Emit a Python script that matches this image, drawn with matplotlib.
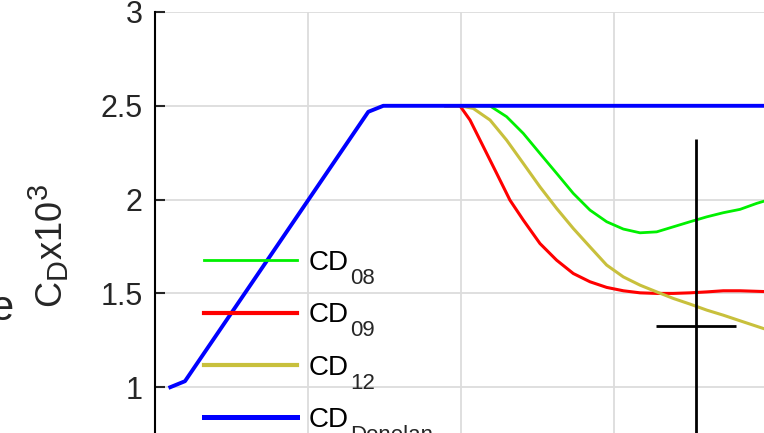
import matplotlib
matplotlib.use('Agg')
import matplotlib.pyplot as plt
import matplotlib._mathtext as mtx

plt.rcParams['font.family'] = ['Liberation Sans', 'DejaVu Sans']
plt.rcParams['mathtext.fontset'] = 'custom'
plt.rcParams['mathtext.rm'] = 'Liberation Sans'
plt.rcParams['mathtext.it'] = 'Liberation Sans'
mtx.SHRINK_FACTOR = 0.8  # MATLAB-like bigger sub/superscripts

# data (x in grid units, y is CD x 10^3)
x_donelan = [1.0, 1.96, 13.94, 14.92, 42.0]
cd_donelan = [1.0, 1.032, 2.468, 2.5, 2.5]

x_cd08 = [19.0, 19.93, 21.9, 22.98, 24.07, 25.16, 26.25, 27.34, 28.43, 29.52, 30.61,
          31.7, 32.79, 33.88, 34.97, 36.06, 37.14, 38.24, 39.33, 40.03]
cd08 = [2.5, 2.5, 2.499, 2.442, 2.353, 2.246, 2.14, 2.033, 1.944, 1.882, 1.843,
        1.823, 1.828, 1.855, 1.882, 1.908, 1.93, 1.948, 1.98, 1.997]

x_cd09 = [19.0, 19.28, 19.93, 20.59, 21.46, 22.33, 23.2, 24.07, 25.16, 26.25, 27.34,
          28.43, 29.52, 30.61, 31.7, 32.79, 33.88, 34.97, 36.06, 37.14, 38.24, 39.76, 40.3]
cd09 = [2.5, 2.5, 2.5, 2.424, 2.282, 2.14, 1.997, 1.891, 1.766, 1.677, 1.606,
        1.562, 1.532, 1.514, 1.503, 1.50, 1.50, 1.503, 1.508, 1.514, 1.514, 1.51, 1.51]

x_cd12 = [19.0, 19.93, 20.8, 21.9, 22.98, 24.07, 25.16, 26.25, 27.34, 28.43, 29.52,
          30.61, 31.7, 32.79, 33.88, 34.97, 36.06, 37.14, 38.24, 39.76, 40.3]
cd12 = [2.5, 2.5, 2.486, 2.424, 2.317, 2.193, 2.068, 1.953, 1.846, 1.748, 1.651,
        1.588, 1.544, 1.508, 1.473, 1.443, 1.411, 1.384, 1.354, 1.313, 1.30]

labels = ['CD', 'CD', 'CD', 'CD']
subs = ['08', '09', '12', 'Donelan']

err_x, err_y = 35.36, 1.325
err_xw, err_yw = 2.6, 1.0

fig = plt.figure(figsize=(7.64, 4.33), dpi=100)
ax = fig.add_axes([155 / 764, -48 / 433, 42 * 15.3 / 764, 469 / 433])

ax.plot(x_cd08, cd08, color='#00f000', lw=2.0, label=labels[0])
ax.plot(x_cd09, cd09, color='#ff0000', lw=2.2, label=labels[1])
ax.plot(x_cd12, cd12, color='#c8c03c', lw=2.2, label=labels[2])
ax.plot(x_donelan, cd_donelan, color='#0000ff', lw=2.8, label=labels[3])
ax.errorbar([err_x], [err_y], xerr=[err_xw], yerr=[err_yw], color='black',
            lw=2.0, capsize=0, fmt='none')

ax.set_xlim(0, 42)
ax.set_ylim(0.5, 3)
ax.set_xticks([0, 10, 20, 30, 40])
ax.set_yticks([1, 1.5, 2, 2.5, 3])
ax.set_yticklabels(['1', '1.5', '2', '2.5', '3'])
ax.grid(True, color='#dcdcdc', lw=1.3)
ax.set_axisbelow(True)
for s in ['top', 'right']:
    ax.spines[s].set_visible(False)
ax.spines['left'].set_linewidth(1.5)
ax.tick_params(axis='y', direction='in', length=7, width=1.5, labelsize=22,
               colors='#262626', labelcolor='#262626', pad=9)
ax.tick_params(axis='x', direction='in', length=7, width=1.5, labelsize=22)
ax.set_ylabel(r'C$_\mathrm{D}$x10$^3$', fontsize=26, color='#262626', labelpad=21)

leg = ax.legend(loc='upper left', bbox_to_anchor=(179 / 764, (433 - 225) / 433),
                bbox_transform=fig.transFigure, frameon=False, fontsize=20,
                handlelength=3.35, handletextpad=0.4, labelspacing=0.95)
leg_lw = [2.0, 3.0, 3.0, 3.6]
for h, w in zip(leg.get_lines(), leg_lw):
    h.set_linewidth(w)

# subscripts next to the legend labels
fig.canvas.draw()
r = fig.canvas.get_renderer()
for t, s in zip(leg.get_texts(), subs):
    bb = t.get_window_extent(r)
    fig.text((bb.x1 + 2) / 764, (bb.y0 - 8) / 433, s, fontsize=16, color='#262626',
             ha='left', va='baseline')

fig.text(-10 / 764, (433 - 320) / 433, 'e', fontsize=30, color='#262626', ha='left', va='baseline')

fig.savefig('out.png', dpi=100)
